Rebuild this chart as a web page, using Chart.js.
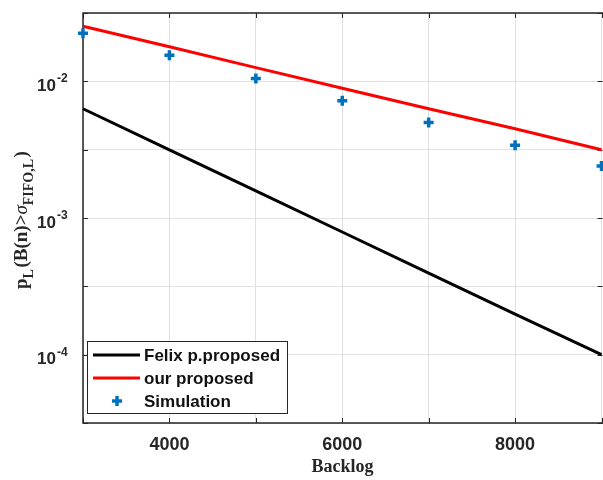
<!DOCTYPE html>
<html>
<head>
<meta charset="utf-8">
<script src="https://cdn.jsdelivr.net/npm/chart.js@4"></script>
<style>
  html, body { margin:0; padding:0; background:#fff; overflow:hidden; width:603px; height:480px; }
  canvas { display:block; }
</style>
</head>
<body>
<canvas id="c" width="610" height="480" style="width:610px;height:480px"></canvas>
<script>
// ---- data ----
const backlog = [3000, 4000, 5000, 6000, 7000, 8000, 9000];
const felixProposed = [6.3e-3, 3.15e-3, 1.58e-3, 7.9e-4, 3.95e-4, 1.98e-4, 1.0e-4];
const ourProposed   = [0.0253, 0.0179, 0.0126, 0.0089, 0.0063, 0.0045, 0.00316];
const simulation    = [0.0225, 0.0155, 0.0105, 0.0072, 0.0050, 0.0034, 0.0024];
const seriesNames = ['Felix p.proposed', 'our proposed', 'Simulation'];
const xGridTicks = [3000, 4000, 5000, 6000, 7000, 8000, 9000];
const xTickLabels = [4000, 6000, 8000];
const yGridExponents = [-4.5, -4, -3.5, -3, -2.5, -2, -1.5];
const yLabelExponents = [-4, -3, -2];
const xTitle = 'Backlog';

const toPts = ys => backlog.map((x, i) => ({ x: x, y: ys[i] }));
const AX = '#262626';

const deco = {
  id: 'deco',
  beforeDatasetsDraw(chart) {
    const ctx = chart.ctx, a = chart.chartArea;
    const xs = chart.scales.x, ys = chart.scales.y;
    ctx.save();
    ctx.strokeStyle = AX;
    ctx.lineWidth = 1.5;
    ctx.beginPath();
    ctx.moveTo(a.right + 2, a.top); ctx.lineTo(a.left, a.top);
    ctx.lineTo(a.left, a.bottom); ctx.lineTo(a.right + 2, a.bottom);
    ctx.stroke();
    ctx.lineWidth = 1;
    ctx.beginPath();
    xGridTicks.forEach(v => {
      const px = Math.round(xs.getPixelForValue(v)) + 0.5;
      ctx.moveTo(px, a.bottom); ctx.lineTo(px, a.bottom - 5);
      ctx.moveTo(px, a.top); ctx.lineTo(px, a.top + 5);
    });
    yGridExponents.forEach(e => {
      const py = Math.round(ys.getPixelForValue(Math.pow(10, e))) + 0.5;
      ctx.moveTo(a.left, py); ctx.lineTo(a.left + 5, py);
      ctx.moveTo(a.right + 1, py); ctx.lineTo(a.right - 4, py);
    });
    ctx.stroke();
    ctx.restore();
  },
  afterDatasetsDraw(chart) {
    const ctx = chart.ctx, a = chart.chartArea;
    const xs = chart.scales.x, ys = chart.scales.y;
    ctx.save();
    // x tick labels
    ctx.fillStyle = AX;
    ctx.font = 'bold 18px "Liberation Sans", Arial, sans-serif';
    ctx.textAlign = 'center';
    ctx.textBaseline = 'alphabetic';
    xTickLabels.forEach(v => {
      ctx.fillText(String(v), xs.getPixelForValue(v), a.bottom + 27);
    });
    // y tick labels 10^e
    yLabelExponents.forEach(e => {
      const py = ys.getPixelForValue(Math.pow(10, e));
      ctx.font = 'bold 17px "Liberation Sans", Arial, sans-serif';
      ctx.textAlign = 'right';
      ctx.fillText('10', a.left - 27, py + 9.5);
      ctx.font = 'bold 12px "Liberation Sans", Arial, sans-serif';
      ctx.textAlign = 'left';
      ctx.fillText(String(e), a.left - 26, py + 1);
    });
    // x title
    ctx.font = 'bold 18px "Liberation Serif", "Times New Roman", serif';
    ctx.textAlign = 'center';
    ctx.fillText(xTitle, 342.5, a.bottom + 49);
    // y title (rotated) p_L(B(n)>σ_FIFO,L)
    ctx.save();
    ctx.translate(27, 289);
    ctx.rotate(-Math.PI / 2);
    ctx.textAlign = 'left';
    const mainF = 'bold 19px "Liberation Serif", "Times New Roman", serif';
    const subF = 'bold 14px "Liberation Serif", "Times New Roman", serif';
    const sigF = 'italic 19px "Liberation Serif", "Times New Roman", serif';
    const parts = [['p', mainF, 0], ['L', subF, 6], ['(B(n)>', mainF, 0], ['\u03C3', sigF, 0], ['FIFO,L', subF, 6], [')', mainF, 0]];
    let cx = 0;
    parts.forEach(p => {
      ctx.font = p[1];
      ctx.fillText(p[0], cx, p[2]);
      cx += ctx.measureText(p[0]).width + (p[1] === subF ? 1.5 : 0);
    });
    ctx.restore();
    // legend
    const lx = 87, ly = 341, lw = 200, lh = 72;
    ctx.fillStyle = '#fff';
    ctx.fillRect(lx, ly, lw, lh);
    ctx.strokeStyle = AX;
    ctx.lineWidth = 1;
    ctx.strokeRect(lx + 0.5, ly + 0.5, lw, lh);
    const ds = chart.data.datasets;
    const rows = [355, 378, 401];
    rows.forEach((ry, i) => {
      const d = ds[i];
      ctx.strokeStyle = d.borderColor;
      ctx.lineWidth = 3;
      ctx.beginPath();
      if (d.showLine) {
        ctx.moveTo(93, ry); ctx.lineTo(140, ry);
      } else {
        ctx.lineWidth = 3.5;
        ctx.moveTo(117 - 5, ry); ctx.lineTo(117 + 5, ry);
        ctx.moveTo(117, ry - 5); ctx.lineTo(117, ry + 5);
      }
      ctx.stroke();
      ctx.fillStyle = '#111';
      ctx.font = 'bold 17px "Liberation Sans", Arial, sans-serif';
      ctx.textAlign = 'left';
      ctx.fillText(d.label, 144, ry + 6);
    });
    ctx.restore();
  }
};

new Chart(document.getElementById('c'), {
  type: 'scatter',
  data: {
    datasets: [
      { label: seriesNames[0], data: toPts(felixProposed), showLine: true, borderColor: '#000000', backgroundColor: '#000000', borderWidth: 3, pointRadius: 0, clip: false, order: 1 },
      { label: seriesNames[1], data: toPts(ourProposed), showLine: true, borderColor: '#ff0000', backgroundColor: '#ff0000', borderWidth: 3, pointRadius: 0, clip: false, order: 1 },
      { label: seriesNames[2], data: toPts(simulation), showLine: false, pointStyle: 'cross', pointRadius: 5, borderWidth: 3.5, borderColor: '#0072BD', backgroundColor: '#0072BD', clip: false, order: 0 }
    ]
  },
  options: {
    responsive: false,
    animation: false,
    devicePixelRatio: 1,
    events: [],
    layout: { padding: { left: 83, top: 13, right: 6, bottom: 57 } },
    plugins: { legend: { display: false }, tooltip: { enabled: false } },
    scales: {
      x: {
        type: 'linear', min: 3000, max: 9000,
        afterBuildTicks: s => { s.ticks = xGridTicks.map(v => ({ value: v })); },
        ticks: { display: false },
        grid: { color: '#e1e1e1', lineWidth: 1, drawTicks: false },
        border: { display: false },
        afterFit: s => { s.height = 0; }
      },
      y: {
        type: 'logarithmic', min: Math.pow(10, -4.5), max: Math.pow(10, -1.5),
        afterBuildTicks: s => { s.ticks = yGridExponents.map(e => ({ value: Math.pow(10, e) })); },
        ticks: { display: false },
        grid: { color: '#e1e1e1', lineWidth: 1, drawTicks: false },
        border: { display: false },
        afterFit: s => { s.width = 0; }
      }
    }
  },
  plugins: [deco]
});
</script>
</body>
</html>
